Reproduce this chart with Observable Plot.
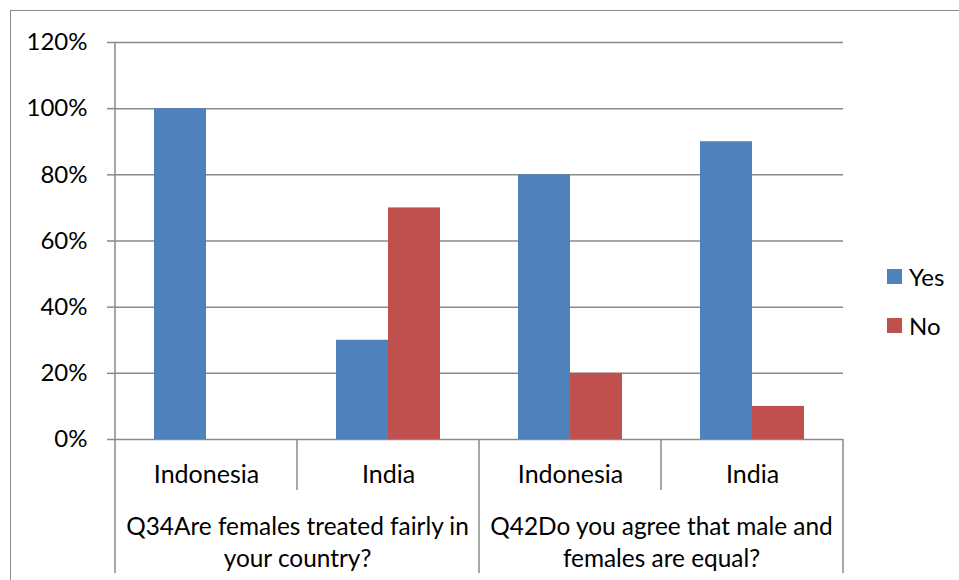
<!DOCTYPE html>
<html>
<head>
<meta charset="utf-8">
<script src="https://cdn.jsdelivr.net/npm/d3@7"></script>
<script src="https://cdn.jsdelivr.net/npm/@observablehq/plot@0.6"></script>
<style>
  html, body { margin: 0; padding: 0; background: #fff; width: 959px; height: 580px; overflow: hidden; position: relative; }
  #frame { position: absolute; left: 10px; top: 10px; width: 1200px; height: 1200px; border: 1.5px solid #8a8a8a; box-sizing: border-box; }
  #chart { position: absolute; left: 0; top: 0; }
  #legend { position: absolute; left: 887px; top: 262px; font-family: Lato, sans-serif; font-size: 24px; color: #000; }
  #legend .item { display: flex; align-items: center; height: 28px; margin-bottom: 21px; }
  #legend .sw { width: 15px; height: 15px; margin-right: 7px; }
</style>
</head>
<body>
<div id="frame"></div>
<div id="chart"></div>
<div id="legend"></div>
<script>
// ---- data ----
const series = ["Yes", "No"];
const seriesColors = ["#4F81BD", "#C0504D"];
const questions = ["Q34Are females treated fairly in\nyour country?", "Q42Do you agree that male and\nfemales are equal?"];
const countries = ["Indonesia", "India", "Indonesia", "India"];
const questionOf = [0, 0, 1, 1];
const yesValues = [1.00, 0.30, 0.80, 0.90];
const noValues = [0.00, 0.70, 0.20, 0.10];
const yTicks = [0, 0.2, 0.4, 0.6, 0.8, 1.0, 1.2];

const groups = countries.map((c, i) => i);
const rows = groups.flatMap(i => [
  {group: i, series: "Yes", value: yesValues[i]},
  {group: i, series: "No", value: noValues[i]}
]);
const questionStarts = questions.map((q, k) => ({q: k, group: questionOf.indexOf(k), text: q}));

const gridColor = "#8a8a8a";
const font = "Lato, sans-serif";

const chart = Plot.plot({
  width: 959,
  height: 580,
  marginLeft: 113,
  marginRight: 115,
  marginTop: 42,
  marginBottom: 141,
  style: {fontFamily: font, fontSize: "24px", color: "#000", background: "transparent", overflow: "visible"},
  fx: {domain: groups, padding: 0, axis: null},
  x: {domain: series, paddingInner: 0, paddingOuter: 0.75, axis: null},
  y: {domain: [0, 1.2], axis: null},
  color: {domain: series, range: seriesColors},
  marks: [
    Plot.ruleY(yTicks, {stroke: gridColor, strokeWidth: 1.5}),
    Plot.axisY({ticks: yTicks, tickFormat: d3.format(".0%"), label: null, tickSize: 8, tickPadding: 20, stroke: gridColor, strokeWidth: 1.5, strokeOpacity: 1, fontSize: 24, fill: "#000"}),
    Plot.barY(rows, {fx: "group", x: "series", y: "value", fill: "series"}),
    Plot.text(groups, {fx: d => d, text: i => countries[i], frameAnchor: "bottom", lineAnchor: "middle", dy: 35, fontSize: 25, fill: "#000"}),
    Plot.text(questionStarts, {fx: "group", text: "text", frameAnchor: "bottom-right", textAnchor: "middle", lineAnchor: "middle", dy: 101, lineHeight: 1.34, fontSize: 24.4, fill: "#000"})
  ]
});
document.getElementById("chart").appendChild(chart);

// separators of the two-level category axis, placed with the plot's own scales
const fx = chart.scale("fx");
const ys = chart.scale("y");
const svg = d3.select(chart);
const y0 = ys.apply(0), yTop = ys.apply(1.2);
const yShort = y0 + 51, yLong = y0 + 134;
const edges = groups.map(i => ({x: fx.apply(i), long: i === 0 || questionOf[i] !== questionOf[i - 1]}));
edges.push({x: fx.apply(groups[groups.length - 1]) + fx.bandwidth, long: true});
const g = svg.append("g").attr("stroke", gridColor).attr("stroke-width", 1.5);
g.selectAll("line").data(edges).join("line")
  .attr("x1", d => d.x).attr("x2", d => d.x)
  .attr("y1", (d, i) => i === 0 ? yTop : y0)
  .attr("y2", d => d.long ? yLong : yShort);

// legend
const legend = d3.select("#legend");
series.forEach((s, i) => {
  const it = legend.append("div").attr("class", "item");
  it.append("div").attr("class", "sw").style("background", seriesColors[i]);
  it.append("span").text(s);
});
</script>
</body>
</html>
